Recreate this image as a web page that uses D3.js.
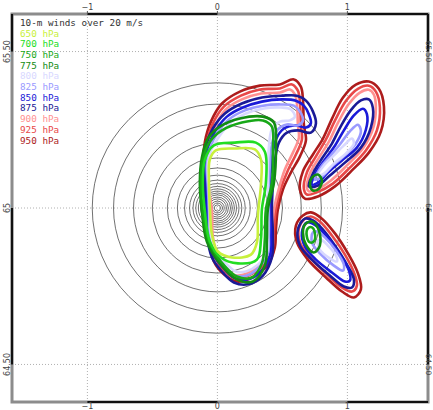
<!DOCTYPE html>
<html>
<head>
<meta charset="utf-8">
<script src="https://cdn.jsdelivr.net/npm/d3@7"></script>
<style>
  body { margin: 0; background: #fff; }
  svg { display: block; }
</style>
</head>
<body>
<div id="chart"></div>
<script>
// pressure levels and the legend colours
const levels = [650, 700, 750, 775, 800, 825, 850, 875, 900, 925, 950];
const levelColors = ["#c8f03c", "#22dd22", "#18a818", "#128c12", "#d8d8ff", "#9a9aff", "#1a1ad8", "#1a1a96", "#ff9090", "#e84848", "#ad1c1c"];

const lonTicks = [-1, 0, 1];
const lonTickLabels = ["\u22121", "0", "1"];
const latTicks = [65.5, 65, 64.5];
const latTickLabels = ["65.50", "65", "64.50"];

// isobars round the low, radius in degrees of latitude
const lowCentre = [0, 65];
const isobarRadii = [0.40, 0.332, 0.268, 0.208, 0.160, 0.128, 0.105, 0.089, 0.078, 0.069, 0.061, 0.054, 0.048, 0.042, 0.035, 0.029, 0.022, 0.016, 0.010];

// 20 m/s contours, [lon, lat], one list of closed loops per level
const c650 = [
  [[-0.012,65.184],[0.135,65.190],[0.288,65.187],[0.335,65.155],[0.335,65.075],[0.312,64.979],[0.304,64.890],[0.258,64.851],[0.112,64.842],[0.004,64.861],[-0.042,64.915],[-0.058,65.002],[-0.065,65.081],[-0.058,65.155]]
];
const c700 = [
  [[-0.027,65.200],[0.135,65.209],[0.296,65.209],[0.365,65.180],[0.373,65.081],[0.342,64.995],[0.335,64.899],[0.304,64.835],[0.158,64.823],[0.027,64.842],[-0.058,64.893],[-0.096,64.989],[-0.112,65.075],[-0.096,65.155]]
];
const c750 = [
  [[0.350,65.280],[0.419,65.260],[0.427,65.187],[0.419,65.081],[0.373,64.995],[0.365,64.899],[0.342,64.823],[0.265,64.778],[0.150,64.781],[0.027,64.829],[-0.065,64.893],[-0.112,64.989],[-0.127,65.081],[-0.108,65.161],[-0.058,65.212],[0.035,65.248],[0.188,65.273]],
  [[0.696,64.935],[0.727,64.938],[0.750,64.919],[0.742,64.893],[0.712,64.890],[0.688,64.909]]
];
const c775 = [
  [[0.350,65.292],[0.435,65.273],[0.450,65.187],[0.435,65.081],[0.388,64.995],[0.381,64.899],[0.365,64.816],[0.273,64.765],[0.150,64.772],[0.019,64.823],[-0.081,64.893],[-0.119,64.989],[-0.135,65.081],[-0.119,65.161],[-0.073,65.222],[0.019,65.260],[0.173,65.286]],
  [[0.727,65.097],[0.773,65.107],[0.804,65.088],[0.781,65.062],[0.735,65.056],[0.712,65.075]],
  [[0.673,64.947],[0.727,64.957],[0.781,64.928],[0.788,64.880],[0.742,64.858],[0.681,64.883],[0.658,64.922]]
];
const c800 = [
  [[-0.073,65.139],[-0.050,65.184],[0.012,65.228],[0.104,65.273],[0.219,65.302],[0.358,65.318],[0.488,65.321],[0.565,65.315],[0.596,65.292],[0.558,65.280],[0.481,65.276],[0.419,65.251],[0.396,65.193],[0.388,65.123],[0.388,65.059],[0.388,64.995],[0.388,64.915],[0.381,64.858],[0.312,64.819],[0.219,64.797],[0.142,64.797],[0.065,64.823],[-0.012,64.861],[-0.050,64.919],[-0.058,64.989],[-0.065,65.065]],
  [[0.773,65.104],[0.819,65.136],[0.896,65.168],[0.973,65.200],[1.035,65.222],[1.050,65.206],[0.988,65.174],[0.904,65.145],[0.819,65.110]],
  [[0.773,64.896],[0.788,64.867],[0.865,64.839],[0.919,64.829],[0.912,64.848],[0.850,64.880],[0.796,64.899]]
];
const c825 = [
  [[-0.081,65.139],[-0.058,65.190],[-0.004,65.238],[0.088,65.283],[0.212,65.312],[0.350,65.327],[0.488,65.331],[0.588,65.327],[0.635,65.308],[0.658,65.280],[0.619,65.264],[0.535,65.267],[0.465,65.251],[0.419,65.203],[0.404,65.139],[0.396,65.059],[0.396,64.995],[0.396,64.915],[0.388,64.855],[0.319,64.810],[0.227,64.784],[0.135,64.784],[0.058,64.813],[-0.019,64.855],[-0.058,64.915],[-0.065,64.989],[-0.073,65.065]],
  [[0.750,65.091],[0.788,65.126],[0.865,65.165],[0.942,65.203],[1.019,65.245],[1.081,65.266],[1.104,65.246],[1.065,65.206],[0.981,65.168],[0.881,65.133],[0.796,65.097]],
  [[0.735,64.922],[0.727,64.890],[0.788,64.855],[0.896,64.816],[0.965,64.800],[0.973,64.819],[0.912,64.864],[0.827,64.906],[0.765,64.925]]
];
const c850 = [
  [[-0.088,65.139],[-0.073,65.193],[-0.019,65.244],[0.073,65.292],[0.196,65.321],[0.342,65.340],[0.496,65.347],[0.604,65.343],[0.665,65.327],[0.704,65.299],[0.719,65.270],[0.681,65.257],[0.604,65.264],[0.512,65.254],[0.450,65.219],[0.419,65.155],[0.404,65.075],[0.404,64.995],[0.412,64.915],[0.404,64.848],[0.335,64.797],[0.235,64.772],[0.135,64.775],[0.050,64.807],[-0.027,64.848],[-0.065,64.915],[-0.081,64.989],[-0.081,65.065]],
  [[0.727,65.075],[0.758,65.113],[0.827,65.155],[0.904,65.199],[0.973,65.248],[1.050,65.296],[1.119,65.317],[1.150,65.300],[1.142,65.250],[1.073,65.193],[0.958,65.152],[0.850,65.113],[0.773,65.081]],
  [[0.688,64.954],[0.650,64.922],[0.673,64.877],[0.758,64.835],[0.881,64.794],[0.981,64.765],[1.019,64.768],[1.012,64.800],[0.935,64.855],[0.842,64.909],[0.758,64.944]]
];
const c875 = [
  [[-0.104,65.139],[-0.088,65.200],[-0.035,65.254],[0.058,65.302],[0.188,65.334],[0.342,65.353],[0.496,65.359],[0.612,65.359],[0.681,65.343],[0.735,65.308],[0.758,65.270],[0.719,65.241],[0.619,65.248],[0.535,65.241],[0.473,65.209],[0.442,65.149],[0.427,65.075],[0.419,64.995],[0.427,64.915],[0.419,64.842],[0.350,64.784],[0.235,64.756],[0.127,64.762],[0.035,64.797],[-0.042,64.842],[-0.081,64.915],[-0.088,64.989],[-0.096,65.065]],
  [[0.704,65.069],[0.735,65.110],[0.804,65.158],[0.881,65.206],[0.950,65.262],[1.027,65.313],[1.104,65.344],[1.165,65.347],[1.196,65.320],[1.181,65.258],[1.104,65.193],[0.981,65.145],[0.865,65.104],[0.773,65.072]],
  [[0.673,64.966],[0.619,64.931],[0.635,64.880],[0.727,64.835],[0.865,64.784],[0.973,64.749],[1.035,64.746],[1.050,64.772],[0.996,64.819],[0.904,64.880],[0.812,64.931],[0.735,64.960]]
];
const c900 = [
  [[-0.081,65.139],[-0.065,65.203],[-0.019,65.260],[0.065,65.315],[0.188,65.347],[0.335,65.366],[0.481,65.369],[0.558,65.379],[0.596,65.363],[0.612,65.331],[0.619,65.267],[0.627,65.225],[0.581,65.177],[0.519,65.123],[0.473,65.062],[0.435,64.995],[0.419,64.931],[0.412,64.880],[0.358,64.832],[0.265,64.800],[0.150,64.784],[0.065,64.807],[0.004,64.845],[-0.035,64.909],[-0.042,64.989],[-0.065,65.065]],
  [[0.688,65.065],[0.712,65.110],[0.781,65.161],[0.858,65.212],[0.927,65.272],[1.012,65.333],[1.096,65.369],[1.165,65.378],[1.204,65.362],[1.219,65.319],[1.196,65.252],[1.119,65.190],[0.996,65.136],[0.873,65.088],[0.765,65.059],[0.704,65.053]]
];
const c925 = [
  [[-0.096,65.139],[-0.081,65.209],[-0.035,65.270],[0.050,65.324],[0.181,65.359],[0.327,65.379],[0.481,65.382],[0.573,65.395],[0.619,65.375],[0.635,65.337],[0.642,65.267],[0.650,65.219],[0.604,65.171],[0.542,65.120],[0.488,65.062],[0.450,64.995],[0.435,64.931],[0.427,64.877],[0.373,64.826],[0.273,64.791],[0.150,64.775],[0.058,64.797],[-0.012,64.839],[-0.050,64.906],[-0.058,64.989],[-0.081,65.065]],
  [[0.665,65.062],[0.688,65.113],[0.758,65.165],[0.835,65.219],[0.904,65.279],[0.988,65.342],[1.081,65.381],[1.165,65.391],[1.219,65.372],[1.250,65.322],[1.227,65.248],[1.142,65.184],[1.019,65.129],[0.888,65.078],[0.765,65.050],[0.688,65.043]],
  [[0.665,64.963],[0.627,64.935],[0.635,64.890],[0.712,64.842],[0.842,64.788],[0.958,64.746],[1.035,64.733],[1.073,64.752],[1.050,64.794],[0.981,64.851],[0.881,64.912],[0.788,64.957],[0.719,64.973]]
];
const c950 = [
  [[-0.112,65.139],[-0.096,65.212],[-0.050,65.276],[0.035,65.334],[0.173,65.372],[0.327,65.391],[0.481,65.395],[0.588,65.411],[0.642,65.388],[0.658,65.347],[0.665,65.267],[0.681,65.216],[0.635,65.165],[0.565,65.113],[0.504,65.059],[0.465,64.995],[0.450,64.931],[0.442,64.874],[0.388,64.819],[0.281,64.781],[0.150,64.765],[0.050,64.788],[-0.027,64.829],[-0.065,64.899],[-0.073,64.989],[-0.096,65.065]],
  [[0.635,65.059],[0.658,65.117],[0.735,65.171],[0.812,65.222],[0.881,65.285],[0.965,65.352],[1.065,65.394],[1.165,65.404],[1.242,65.381],[1.281,65.325],[1.258,65.245],[1.165,65.177],[1.035,65.120],[0.904,65.069],[0.773,65.037],[0.673,65.030]],
  [[0.658,64.976],[0.604,64.944],[0.612,64.890],[0.696,64.835],[0.835,64.778],[0.958,64.733],[1.050,64.714],[1.104,64.740],[1.081,64.791],[1.004,64.855],[0.904,64.919],[0.804,64.966],[0.719,64.986]]
];

const contourSets = [c650, c700, c750, c775, c800, c825, c850, c875, c900, c925, c950];

function drawChart() {
    const width = 433, height = 410;
    const left = 12, right = 428, top = 14, bottom = 402;

    const svg = d3.select("#chart")
        .append("svg")
        .attr("width", width)
        .attr("height", height);

    const x = d3.scaleLinear()
        .domain([-1.58, 1.62])
        .range([left, right]);

    const y = d3.scaleLinear()
        .domain([64.38, 65.62])
        .range([bottom, top]);

    svg.append("clipPath")
        .attr("id", "frame")
        .append("rect")
        .attr("x", left).attr("y", top)
        .attr("width", right - left).attr("height", bottom - top);

    const plot = svg.append("g").attr("clip-path", "url(#frame)");

    // dotted lat/lon grid
    plot.selectAll(".vgrid")
        .data(lonTicks)
        .enter()
        .append("line")
        .attr("x1", d => x(d)).attr("x2", d => x(d))
        .attr("y1", top).attr("y2", bottom)
        .style("stroke", "#b0b0b0")
        .style("stroke-dasharray", "1,2");

    plot.selectAll(".hgrid")
        .data(latTicks)
        .enter()
        .append("line")
        .attr("x1", left).attr("x2", right)
        .attr("y1", d => y(d)).attr("y2", d => y(d))
        .style("stroke", "#b0b0b0")
        .style("stroke-dasharray", "1,2");

    // isobars
    plot.selectAll(".isobar")
        .data(isobarRadii)
        .enter()
        .append("circle")
        .attr("cx", x(lowCentre[0]))
        .attr("cy", y(lowCentre[1]))
        .attr("r", d => y(lowCentre[1]) - y(lowCentre[1] + d))
        .style("fill", "none")
        .style("stroke", "#333")
        .style("stroke-width", 0.7);

    const line = d3.line()
        .x(d => x(d[0]))
        .y(d => y(d[1]))
        .curve(d3.curveCatmullRomClosed.alpha(0.5));

    // outer levels first so the greens sit on top
    for (let i = levels.length - 1; i >= 0; i--) {
        plot.selectAll(".lev" + levels[i])
            .data(contourSets[i])
            .enter()
            .append("path")
            .attr("d", line)
            .style("fill", "none")
            .style("stroke", levelColors[i])
            .style("stroke-width", 2.6)
            .style("stroke-linejoin", "round");
    }

    // frame, alternating black / grey between the ticks
    svg.append("rect")
        .attr("x", left).attr("y", top)
        .attr("width", right - left).attr("height", bottom - top)
        .style("fill", "none")
        .style("stroke", "#8c8c8c")
        .style("stroke-width", 3);

    const lonEdges = [x.domain()[0]].concat(lonTicks, [x.domain()[1]]);
    const latEdges = [y.domain()[1]].concat(latTicks, [y.domain()[0]]);
    for (let i = 1; i < lonEdges.length - 1; i += 2) {
        [top, bottom].forEach(yy => {
            svg.append("line")
                .attr("x1", x(lonEdges[i])).attr("x2", x(lonEdges[i + 1]))
                .attr("y1", yy).attr("y2", yy)
                .style("stroke", "#111").style("stroke-width", 2.2);
        });
    }
    for (let i = 0; i < latEdges.length - 1; i += 2) {
        [left, right].forEach(xx => {
            svg.append("line")
                .attr("x1", xx).attr("x2", xx)
                .attr("y1", y(latEdges[i])).attr("y2", y(latEdges[i + 1]))
                .style("stroke", "#111").style("stroke-width", 2.2);
        });
    }

    // tick labels
    const tickFont = "DejaVu Sans";
    lonTicks.forEach((t, i) => {
        svg.append("line")
            .attr("x1", x(t)).attr("x2", x(t)).attr("y1", top - 3).attr("y2", top)
            .style("stroke", "#555");
        svg.append("text")
            .attr("x", x(t)).attr("y", 10)
            .style("text-anchor", "middle")
            .style("font-family", tickFont).style("font-size", "8px")
            .style("fill", "#444")
            .text(lonTickLabels[i]);
        svg.append("text")
            .attr("x", x(t)).attr("y", 409)
            .style("text-anchor", "middle")
            .style("font-family", tickFont).style("font-size", "8px")
            .style("fill", "#444")
            .text(lonTickLabels[i]);
    });

    latTicks.forEach((t, i) => {
        svg.append("text")
            .attr("transform", "translate(10," + y(t) + ") rotate(-90)")
            .style("text-anchor", "middle")
            .style("font-family", tickFont).style("font-size", "8px")
            .style("fill", "#444")
            .text(latTickLabels[i]);
        svg.append("text")
            .attr("transform", "translate(425.5," + y(t) + ") rotate(90)")
            .style("text-anchor", "middle")
            .style("font-family", tickFont).style("font-size", "7.5px")
            .style("fill", "#444")
            .text(latTickLabels[i]);
    });

    // title and legend
    const legendFont = "DejaVu Sans Mono";
    svg.append("text")
        .attr("x", 20).attr("y", 26)
        .style("font-family", legendFont).style("font-size", "9.3px")
        .style("fill", "#333")
        .text("10-m winds over 20 m/s");

    svg.selectAll(".legend-label")
        .data(levels)
        .enter()
        .append("text")
        .attr("x", 20)
        .attr("y", (d, i) => 36.5 + i * 10.7)
        .style("font-family", legendFont).style("font-size", "9.3px")
        .style("fill", (d, i) => levelColors[i])
        .text(d => d + " hPa");
}

drawChart();
</script>
</body>
</html>
